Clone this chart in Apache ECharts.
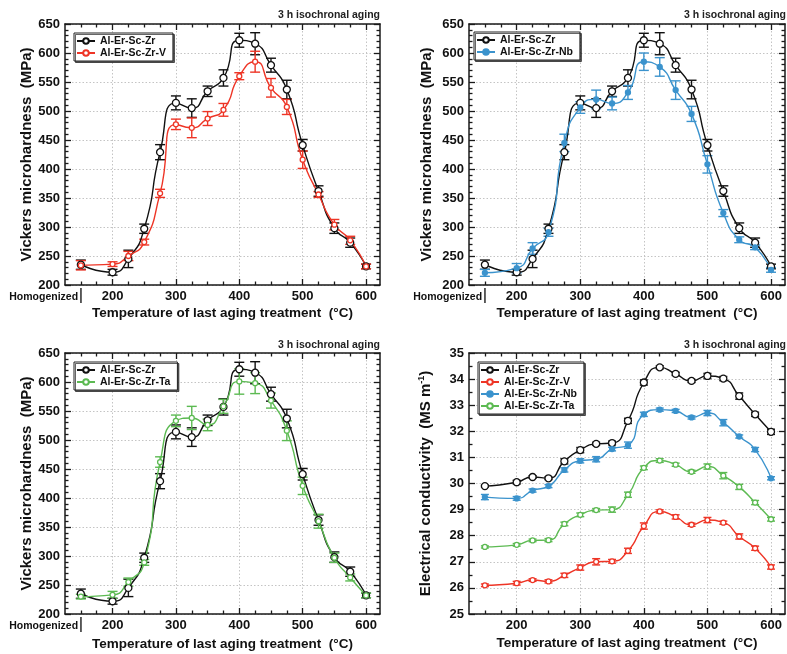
<!DOCTYPE html>
<html><head><meta charset="utf-8">
<script src="https://cdn.jsdelivr.net/npm/echarts@6/dist/echarts.min.js"></script>
<style>html,body{margin:0;padding:0;background:#fff}#c{width:787px;height:654px}</style>
</head><body><div id="c"></div>
<script>
// ---------- data ----------
const temps = [150,200,225,250,275,300,325,350,375,400,425,450,475,500,525,550,575,600];
const xMajor = [200,300,400,500,600];
const xMinor = [150,175,225,250,275,325,350,375,425,450,475,525,550,575];
const xHomog = [150];
const homogLabel = 'Homogenized';

const hvZr    = [235,222,245,297,429,514,505,534,557,622,616,579,537,441,362,298,273,232];
const hvZrErr = [8,5,15,8,13,12,16,9,14,12,19,12,16,10,9,9,8,4];
const hvV     = [234,236,250,274,358,477,471,487,502,560,585,540,507,416,356,304,277,232];
const hvVErr  = [8,4,8,5,7,9,17,12,11,6,18,16,13,15,5,9,7,4];
const hvNb    = [221,229,263,291,445,506,520,513,532,585,576,536,495,408,324,278,265,226];
const hvNbErr = [6,8,10,7,15,10,16,11,12,15,16,16,13,15,6,5,4,4];
const hvTa    = [230,233,255,289,462,533,538,526,558,601,598,568,516,421,360,297,263,232];
const hvTaErr = [4,6,7,5,9,10,20,10,12,22,18,13,17,15,12,8,6,4];

const ecZr    = [29.9,30.05,30.25,30.2,30.85,31.28,31.52,31.55,32.4,33.87,34.45,34.2,33.93,34.12,34.02,33.35,32.65,31.98];
const ecZrErr = [0.04,0.07,0.05,0.05,0.1,0.1,0.06,0.07,0.1,0.1,0.06,0.06,0.06,0.1,0.08,0.12,0.08,0.1];
const ecV     = [26.1,26.18,26.3,26.25,26.48,26.78,27.0,27.02,27.42,28.37,28.93,28.72,28.42,28.6,28.5,27.97,27.52,26.8];
const ecVErr  = [0.05,0.07,0.05,0.06,0.08,0.1,0.12,0.07,0.1,0.12,0.06,0.08,0.06,0.1,0.06,0.1,0.08,0.08];
const ecNb    = [29.48,29.43,29.73,29.9,30.52,30.87,30.93,31.32,31.47,32.65,32.83,32.78,32.53,32.7,32.33,31.8,31.3,30.2];
const ecNbErr = [0.1,0.07,0.06,0.06,0.08,0.08,0.1,0.07,0.12,0.08,0.06,0.06,0.06,0.1,0.12,0.06,0.08,0.06];
const ecTa    = [27.57,27.65,27.82,27.83,28.45,28.8,28.98,29.0,29.57,30.6,30.88,30.72,30.45,30.65,30.3,29.87,29.27,28.63];
const ecTaErr = [0.04,0.05,0.05,0.06,0.07,0.07,0.06,0.1,0.1,0.07,0.07,0.06,0.06,0.1,0.12,0.1,0.08,0.07];

const nameZr = 'Al-Er-Sc-Zr', nameV = 'Al-Er-Sc-Zr-V', nameNb = 'Al-Er-Sc-Zr-Nb', nameTa = 'Al-Er-Sc-Zr-Ta';
const xTitle = 'Temperature of last aging treatment  (°C)';
const hvTitle = 'Vickers microhardness  (MPa)';
const ecTitle = 'Electrical conductivity  (MS m{sup|-1})';
const noteText = '3 h isochronal aging';

// ---------- styles ----------
const FONT = '"Liberation Sans", Arial, sans-serif';
const AX = '#1a1a1a';
const C = {zr:'#111111', v:'#ee3526', nb:'#3b93cd', ta:'#5cba52'};
const sty = {
  zr:{symbol:'circle', size:7, fill:'#fff'},
  v:{symbol:'circle', size:5, fill:'#fff'},
  nb:{symbol:'circle', size:5, fill:null},
  ta:{symbol:'circle', size:5, fill:'#fff'}
};

const grids = [], xAxes = [], yAxes = [], series = [], legends = [], titles = [];

function addPanel(p) {
  const gi = grids.length;
  grids.push(p.grid);
  const xb = xAxes.length, yb = yAxes.length;
  const tickLine = {color: AX, width: 1.3};
  const rich = {
    h:{fontSize:10.5, fontWeight:'bold', fontFamily:FONT, color:'#111', width:68, align:'right', padding:[4,1,0,0]},
    b:{fontSize:17, fontFamily:FONT, color:'#111', fontWeight:'normal'},
    s:{width:69}
  };
  xAxes.push({
    gridIndex:gi, type:'value', min:125, max:622, splitNumber:5, position:'bottom',
    axisLine:{show:true, onZero:false, lineStyle:{color:AX, width:1.5}},
    axisTick:{show:true, inside:true, length:6, customValues:xMajor, lineStyle:tickLine},
    axisLabel:{customValues:xMajor, margin:5, color:'#111', fontSize:13, fontWeight:'bold', fontFamily:FONT},
    splitLine:{show:true, lineStyle:{color:'#c4c4c4', type:[1.5,2], width:1}},
    name:xTitle, nameLocation:'middle', nameGap:p.xGap,
    nameTextStyle:{fontSize:13.5, fontWeight:'bold', color:'#111', fontFamily:FONT}
  });
  xAxes.push({gridIndex:gi, type:'value', min:125, max:622, position:'bottom',
    axisLine:{show:false}, splitLine:{show:false},
    axisLabel: p.homog ? {show:true, customValues:xHomog, margin:2, hideOverlap:false,
      formatter: () => '{h|' + homogLabel + '}{b||}{s|}', rich: rich} : {show:false},
    axisTick:{show:true, inside:true, length:3.5, customValues:xMinor, lineStyle:tickLine}});
  xAxes.push({gridIndex:gi, type:'value', min:125, max:622, position:'top',
    axisLine:{show:true, onZero:false, lineStyle:{color:AX, width:1.5}}, axisLabel:{show:false}, splitLine:{show:false},
    axisTick:{show:true, inside:true, length:6, customValues:xMajor, lineStyle:tickLine}});
  xAxes.push({gridIndex:gi, type:'value', min:125, max:622, position:'top',
    axisLine:{show:false}, axisLabel:{show:false}, splitLine:{show:false},
    axisTick:{show:true, inside:true, length:3.5, customValues:xMinor, lineStyle:tickLine}});

  yAxes.push({
    gridIndex:gi, type:'value', min:p.yMin, max:p.yMax, interval:p.yInt, position:'left',
    axisLine:{show:true, onZero:false, lineStyle:{color:AX, width:1.5}},
    axisTick:{show:true, inside:true, length:6, lineStyle:tickLine},
    minorTick:{show:true, splitNumber:p.yMinor, length:3.5, lineStyle:tickLine},
    axisLabel:{margin:5, color:'#111', fontSize:13, fontWeight:'bold', fontFamily:FONT},
    splitLine:{show:true, lineStyle:{color:'#c4c4c4', type:[1.5,2], width:1}},
    name:p.yName, nameLocation:'middle', nameGap:p.yGap,
    nameTextStyle:{fontSize:15, fontWeight:'bold', color:'#111', fontFamily:FONT,
      rich:{sup:{fontSize:9, fontWeight:'bold', fontFamily:FONT, color:'#111', verticalAlign:'top', padding:[0,0,8,0]}}}
  });
  yAxes.push({
    gridIndex:gi, type:'value', min:p.yMin, max:p.yMax, interval:p.yInt, position:'right',
    axisLine:{show:true, onZero:false, lineStyle:{color:AX, width:1.5}},
    axisTick:{show:true, inside:true, length:6, lineStyle:tickLine},
    minorTick:{show:true, splitNumber:p.yMinor, length:3.5, lineStyle:tickLine},
    axisLabel:{show:false}, splitLine:{show:false}
  });

  p.series.forEach(s => {
    const st = sty[s.key], col = C[s.key];
    series.push({
      type:'custom', name:'err-' + s.name, xAxisIndex:xb, yAxisIndex:yb, silent:true, z:2,
      data: temps.map((t,k) => [t, s.vals[k] - s.errs[k], s.vals[k] + s.errs[k]]),
      encode:{x:0, y:[1,2]},
      renderItem: (params, api) => {
        const x = api.value(0);
        const lo = api.coord([x, api.value(1)]);
        const hi = api.coord([x, api.value(2)]);
        const w = p.cap;
        const ls = {stroke:col, lineWidth:1.4};
        return {type:'group', children:[
          {type:'line', shape:{x1:lo[0], y1:lo[1], x2:hi[0], y2:hi[1]}, style:ls},
          {type:'line', shape:{x1:lo[0]-w, y1:lo[1], x2:lo[0]+w, y2:lo[1]}, style:ls},
          {type:'line', shape:{x1:hi[0]-w, y1:hi[1], x2:hi[0]+w, y2:hi[1]}, style:ls}
        ]};
      }
    });
    series.push({
      type:'line', name:s.name, xAxisIndex:xb, yAxisIndex:yb, z:3,
      data: temps.map((t,k) => [t, s.vals[k]]),
      smooth:0.6, showSymbol:true, showAllSymbol:true,
      symbol:st.symbol, symbolSize:st.size,
      itemStyle:{color: st.fill || col, borderColor:col, borderWidth:1.3},
      lineStyle:{color:col, width:1.4},
      emphasis:{disabled:true}
    });
  });

  legends.push({
    left:p.legend[0], top:p.legend[1], orient:'vertical',
    data:p.series.map(s => s.name),
    itemWidth:18, itemHeight:7, itemGap:0,
    padding:[2,7,2,2], borderColor:'#222', borderWidth:1, backgroundColor:'#fff',
    shadowColor:'rgba(0,0,0,0.6)', shadowOffsetX:1.5, shadowOffsetY:1.5, shadowBlur:0,
    selectedMode:false,
    textStyle:{fontSize:10.5, fontWeight:'bold', color:'#111', fontFamily:FONT, lineHeight:12}
  });
  titles.push({
    text:noteText, right:p.note[0], top:p.note[1], padding:0,
    textStyle:{fontSize:10.5, fontWeight:'bold', color:'#222', fontFamily:FONT}
  });
}

addPanel({grid:{left:65, top:24, width:315, height:261}, homog:true,
  yMin:200, yMax:650, yInt:50, yMinor:5, yName:hvTitle, yGap:31, xGap:21, cap:5,
  legend:[74,33], note:[407,10],
  series:[{key:'zr', name:nameZr, vals:hvZr, errs:hvZrErr},{key:'v', name:nameV, vals:hvV, errs:hvVErr}]});
addPanel({grid:{left:469, top:24, width:316, height:261}, homog:true,
  yMin:200, yMax:650, yInt:50, yMinor:5, yName:hvTitle, yGap:35, xGap:21, cap:5,
  legend:[474,32], note:[1,10],
  series:[{key:'zr', name:nameZr, vals:hvZr, errs:hvZrErr},{key:'nb', name:nameNb, vals:hvNb, errs:hvNbErr}]});
addPanel({grid:{left:65, top:353, width:315, height:261}, homog:true,
  yMin:200, yMax:650, yInt:50, yMinor:5, yName:hvTitle, yGap:31, xGap:23, cap:5,
  legend:[74,362], note:[407,340],
  series:[{key:'zr', name:nameZr, vals:hvZr, errs:hvZrErr},{key:'ta', name:nameTa, vals:hvTa, errs:hvTaErr}]});
addPanel({grid:{left:469, top:353, width:316, height:261}, homog:false,
  yMin:25, yMax:35, yInt:1, yMinor:2, yName:ecTitle, yGap:35, xGap:22, cap:4,
  legend:[478,362], note:[1,340],
  series:[{key:'zr', name:nameZr, vals:ecZr, errs:ecZrErr},{key:'v', name:nameV, vals:ecV, errs:ecVErr},
          {key:'nb', name:nameNb, vals:ecNb, errs:ecNbErr},{key:'ta', name:nameTa, vals:ecTa, errs:ecTaErr}]});

const chart = echarts.init(document.getElementById('c'), null, {renderer:'canvas'});
chart.setOption({
  backgroundColor:'#fff', animation:false,
  title:titles, legend:legends, grid:grids, xAxis:xAxes, yAxis:yAxes, series:series
});
</script>
</body></html>
